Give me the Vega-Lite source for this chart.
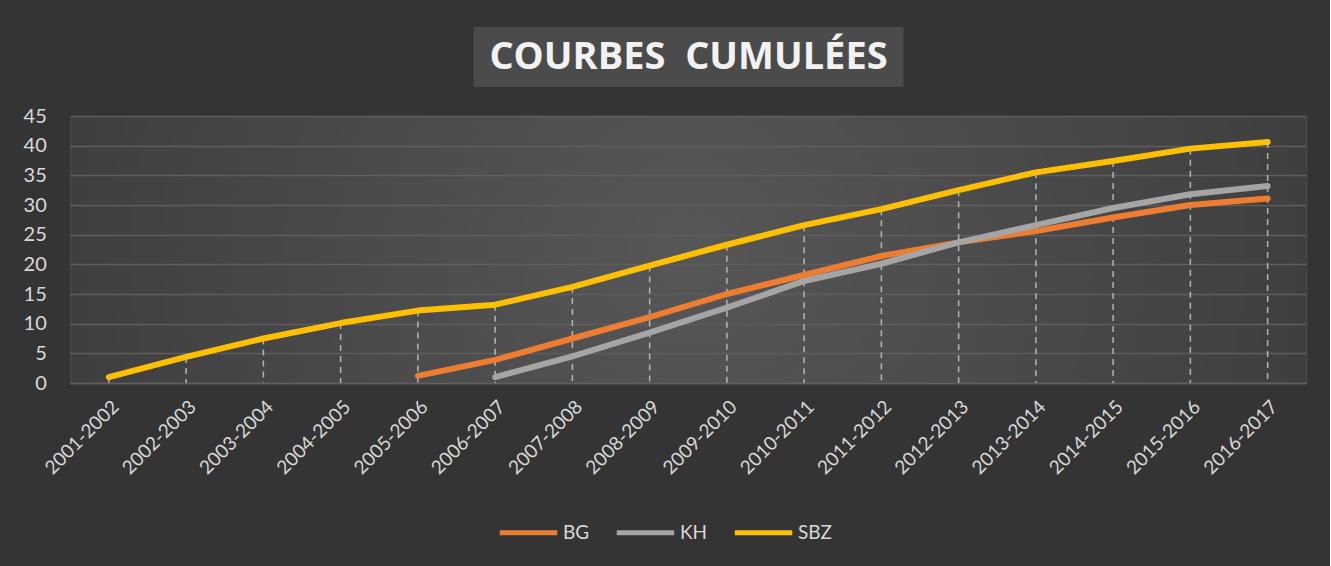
{
  "$schema": "https://vega.github.io/schema/vega-lite/v6.json",
  "background": "#343434",
  "padding": {"top": 27, "left": 22, "right": 23, "bottom": 24},
  "spacing": 18,
  "center": true,
  "bounds": "full",
  "config": {
    "font": "Lato",
    "axis": {"labelFont": "Lato", "labelColor": "#d9d9d9"},
    "axisX": {"title": null, "labelAngle": -45, "labelFontSize": 19, "ticks": false, "domainColor": "#5f5f5f", "domainWidth": 1.5, "labelPadding": 14, "grid": false},
    "axisY": {"title": null, "labelOverlap": false, "grid": true, "gridColor": "#5e5e5e", "gridWidth": 1.5, "domain": false, "ticks": false, "labelFontSize": 20, "labelPadding": 24},
    "legend": {"labelFont": "Lato", "labelColor": "#d9d9d9", "layout": {"bottom": {"anchor": "middle"}}}
  },
  "datasets": {
    "main": [
      {"season": "2001-2002", "series": "SBZ", "value": 1},
      {"season": "2002-2003", "series": "SBZ", "value": 4.4},
      {"season": "2003-2004", "series": "SBZ", "value": 7.5},
      {"season": "2004-2005", "series": "SBZ", "value": 10.1},
      {"season": "2005-2006", "series": "SBZ", "value": 12.2},
      {"season": "2006-2007", "series": "SBZ", "value": 13.2},
      {"season": "2007-2008", "series": "SBZ", "value": 16.2},
      {"season": "2008-2009", "series": "SBZ", "value": 19.8},
      {"season": "2009-2010", "series": "SBZ", "value": 23.3},
      {"season": "2010-2011", "series": "SBZ", "value": 26.6},
      {"season": "2011-2012", "series": "SBZ", "value": 29.3},
      {"season": "2012-2013", "series": "SBZ", "value": 32.5},
      {"season": "2013-2014", "series": "SBZ", "value": 35.5},
      {"season": "2014-2015", "series": "SBZ", "value": 37.4},
      {"season": "2015-2016", "series": "SBZ", "value": 39.5},
      {"season": "2016-2017", "series": "SBZ", "value": 40.6},
      {"season": "2005-2006", "series": "BG", "value": 1.2},
      {"season": "2006-2007", "series": "BG", "value": 3.9},
      {"season": "2007-2008", "series": "BG", "value": 7.5},
      {"season": "2008-2009", "series": "BG", "value": 11.1},
      {"season": "2009-2010", "series": "BG", "value": 15},
      {"season": "2010-2011", "series": "BG", "value": 18.2},
      {"season": "2011-2012", "series": "BG", "value": 21.4},
      {"season": "2012-2013", "series": "BG", "value": 23.7},
      {"season": "2013-2014", "series": "BG", "value": 25.6},
      {"season": "2014-2015", "series": "BG", "value": 27.9},
      {"season": "2015-2016", "series": "BG", "value": 30},
      {"season": "2016-2017", "series": "BG", "value": 31.1},
      {"season": "2006-2007", "series": "KH", "value": 1},
      {"season": "2007-2008", "series": "KH", "value": 4.5},
      {"season": "2008-2009", "series": "KH", "value": 8.5},
      {"season": "2009-2010", "series": "KH", "value": 12.7},
      {"season": "2010-2011", "series": "KH", "value": 17.2},
      {"season": "2011-2012", "series": "KH", "value": 20.1},
      {"season": "2012-2013", "series": "KH", "value": 23.7},
      {"season": "2013-2014", "series": "KH", "value": 26.6},
      {"season": "2014-2015", "series": "KH", "value": 29.5},
      {"season": "2015-2016", "series": "KH", "value": 31.8},
      {"season": "2016-2017", "series": "KH", "value": 33.2}
    ]
  },
  "vconcat": [
    {
      "width": 430,
      "height": 60,
      "view": {"fill": "#4b4b4b", "stroke": null},
      "data": {"values": [{"t": "COURBES\u00a0\u00a0CUMULÉES"}]},
      "mark": {"type": "text", "font": "Open Sans", "fontWeight": "bold", "fontSize": 38, "color": "#f2f2f2", "baseline": "middle", "align": "center", "dy": 1},
      "encoding": {"text": {"field": "t", "type": "nominal"}}
    },
    {
      "width": 1236,
      "height": 267,
      "data": {"name": "main"},
      "view": {
        "fill": {"gradient": "radial", "x1": 0.5, "y1": 0.5, "x2": 0.5, "y2": 0.5, "r1": 0, "r2": 0.75,
          "stops": [{"offset": 0, "color": "#575757"}, {"offset": 1, "color": "#333333"}]},
        "stroke": "#4d4d4d"
      },
      "layer": [
        {
          "transform": [{"aggregate": [{"op": "max", "field": "value", "as": "top"}], "groupby": ["season"]}],
          "mark": {"type": "rule", "color": "#c8c8c8", "strokeDash": [6, 5], "strokeWidth": 1.5, "opacity": 0.85},
          "encoding": {
            "x": {"field": "season", "type": "ordinal", "scale": {"type": "point", "padding": 0.5}},
            "y": {"field": "top", "type": "quantitative", "scale": {"domain": [0, 45], "nice": false},
              "axis": {"values": [0, 5, 10, 15, 20, 25, 30, 35, 40, 45]}},
            "y2": {"datum": 0}
          }
        },
        {
          "mark": {"type": "line", "strokeWidth": 6, "strokeCap": "round", "strokeJoin": "round"},
          "encoding": {
            "x": {"field": "season", "type": "ordinal", "scale": {"type": "point", "padding": 0.5}},
            "y": {"field": "value", "type": "quantitative", "scale": {"domain": [0, 45], "nice": false},
              "axis": {"values": [0, 5, 10, 15, 20, 25, 30, 35, 40, 45]}},
            "color": {
              "field": "series", "type": "nominal",
              "scale": {"domain": ["BG", "KH", "SBZ"], "range": ["#ED7D31", "#A5A5A5", "#FFC000"]},
              "legend": {"title": null, "orient": "bottom", "direction": "horizontal", "symbolType": "stroke", "symbolSize": 3300, "symbolStrokeWidth": 5, "labelFontSize": 19, "columnPadding": 16, "labelOffset": 3, "offset": 22}
            }
          }
        }
      ]
    }
  ]
}
